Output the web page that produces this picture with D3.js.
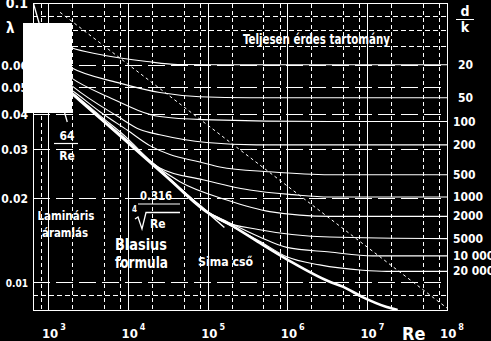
<!DOCTYPE html>
<html>
<head>
<meta charset="utf-8">
<script src="https://cdn.jsdelivr.net/npm/d3@7"></script>
<style>
  html, body { margin: 0; padding: 0; background: #000; }
  svg { display: block; }
  text { font-family: 'Liberation Sans Narrow', 'Arial Narrow', 'DejaVu Sans Condensed', sans-serif; font-weight: bold; fill: #fff; }
</style>
</head>
<body>
<svg id="chart" width="491" height="341"></svg>
<script>
// ---- Axis ticks ----
const reMajor = [1e3, 1e4, 1e5, 1e6, 1e7];
const reMinor = [8e2, 2e3, 5e3, 8e3, 2e4, 5e4, 8e4, 2e5, 5e5, 8e5, 2e6, 5e6, 8e6, 2e7, 5e7, 8e7];
const reTickExp = [3, 4, 5, 6, 7, 8];
const lambdaMajor = [0.01, 0.02, 0.03, 0.04, 0.05, 0.06];
const lambdaMinor = [0.009, 0.07, 0.08, 0.09];
const lambdaLabels = [0.1, 0.06, 0.05, 0.04, 0.03, 0.02, 0.01];

// ---- Laminar flow (64/Re) and Blasius range ----
const laminarRe = [640, 1700];
const blasiusRe = [1800, 5000, 20000, 60000, 160000];

// ---- Hydraulically smooth pipe ----
const smoothRe  = [1500, 1900, 3000, 10000, 30000, 100000, 187000, 445000, 1e6, 3.36e6, 4.9e6, 8.7e6, 1.75e7, 2.4e7];
const smoothLam = [0.0508, 0.0479, 0.0427, 0.0316, 0.0240, 0.0178, 0.0162, 0.0139, 0.0121, 0.0101, 0.0097, 0.0089, 0.0082, 0.0080];

// ---- Boundary of the fully rough zone ----
const roughBoundaryRe  = [1380, 1e8];
const roughBoundaryLam = [0.093, 0.00813];

// ---- Relative smoothness d/k curves: [Re, lambda] ----
const dkLabels = ["20", "50", "100", "200", "500", "1000", "2000", "5000", "10 000", "20 000"];
const c20 = [[1300,0.0730],[1891,0.0696],[4373,0.0657],[17000,0.0620],[41600,0.0605],[153000,0.0604],[1e8,0.0604]];
const c50 = [[1300,0.0630],[1891,0.0590],[7355,0.0521],[24750,0.0480],[78600,0.0464],[333300,0.0460],[1e8,0.0460]];
const c100 = [[1300,0.0590],[1891,0.0543],[5508,0.0464],[24750,0.0394],[85700,0.0384],[3.36e6,0.0378],[1e8,0.0378]];
const c200 = [[1400,0.0550],[2004,0.0504],[7355,0.0394],[13884,0.0354],[24750,0.0339],[96200,0.0318],[407800,0.0312],[1e8,0.0312]];
const c500 = [[1500,0.0515],[2123,0.0480],[4373,0.0410],[9817,0.0351],[18535,0.0310],[33036,0.0288],[78600,0.0271],[140000,0.0260],[593700,0.0250],[3.36e6,0.0244],[1e8,0.0244]];
const c1000 = [[1500,0.0512],[2123,0.0472],[4373,0.0397],[9817,0.0328],[13884,0.0297],[24750,0.0258],[85700,0.0234],[333300,0.0215],[1.154e6,0.0207],[3.36e6,0.0203],[1e8,0.0203]];
const c2000 = [[1500,0.0510],[2123,0.0470],[4373,0.0393],[9817,0.0323],[18535,0.0273],[44105,0.0230],[171400,0.0198],[593700,0.0180],[3.36e6,0.0173],[1e8,0.0173]];
const c5000 = [[1500,0.0509],[2123,0.0469],[4373,0.0391],[10000,0.0319],[33036,0.0236],[78600,0.0190],[140000,0.0168],[444700,0.0155],[3.36e6,0.0146],[1e8,0.0144]];
const c10000 = [[1500,0.0508],[2123,0.0468],[4373,0.0390],[10000,0.0318],[33036,0.0235],[100000,0.0179],[171400,0.0166],[444700,0.0146],[970300,0.0134],[3.36e6,0.0129],[1.164e7,0.0125],[1e8,0.0125]];
const c20000 = [[1500,0.0507],[2123,0.0467],[4373,0.0389],[10000,0.0317],[33036,0.0234],[100000,0.0178],[228800,0.0156],[444700,0.0141],[970300,0.0124],[2.518e6,0.0116],[8.716e6,0.0111],[1.744e7,0.0110],[1e8,0.0110]];
const dkCurves = [c20, c50, c100, c200, c500, c1000, c2000, c5000, c10000, c20000];

// ---- Drawing ----
const svg = d3.select('#chart');
const x = d3.scaleLog().domain([Math.pow(10, 2.8), 1e8]).range([33, 447]);
const y = d3.scaleLog().domain([0.008, 0.1]).range([310, 3.5]);
const [x0, x1] = x.range();
const [y0, y1] = y.range();

svg.append('defs').append('clipPath').attr('id', 'plot')
  .append('rect').attr('x', x0).attr('y', y1).attr('width', x1 - x0).attr('height', y0 - y1);

const grid = svg.append('g').attr('stroke', '#fff').attr('stroke-width', 1).attr('shape-rendering', 'crispEdges');

grid.selectAll('.vmin').data(reMinor).join('line')
  .attr('x1', d => x(d)).attr('x2', d => x(d)).attr('y1', y1).attr('y2', y0)
  .attr('stroke-dasharray', '4,3');
grid.selectAll('.vmaj').data(reMajor).join('line')
  .attr('x1', d => x(d)).attr('x2', d => x(d)).attr('y1', y1).attr('y2', y0);
grid.selectAll('.hmaj').data(lambdaMajor).join('line')
  .attr('x1', x0).attr('x2', x1).attr('y1', d => y(d)).attr('y2', d => y(d))
  .attr('stroke-dasharray', '17,6');
grid.selectAll('.hmin').data(lambdaMinor).join('line')
  .attr('x1', x0).attr('x2', x1).attr('y1', d => y(d)).attr('y2', d => y(d))
  .attr('stroke-dasharray', '5,3');
grid.append('rect').attr('x', x0).attr('y', y1).attr('width', x1 - x0).attr('height', y0 - y1)
  .attr('fill', 'none');

const plot = svg.append('g').attr('clip-path', 'url(#plot)').attr('fill', 'none').attr('stroke', '#fff');
const line = d3.line().x(d => x(d[0])).y(d => y(d[1])).curve(d3.curveMonotoneX);
const straight = d3.line().x(d => x(d[0])).y(d => y(d[1]));

// fully rough boundary
plot.append('path')
  .attr('d', straight(roughBoundaryRe.map((r, i) => [r, roughBoundaryLam[i]])))
  .attr('stroke-width', 1).attr('stroke-dasharray', '3,3');

// roughness curves
plot.selectAll('.dk').data(dkCurves).join('path')
  .attr('d', d => line(d)).attr('stroke-width', 1.1);

// Blasius: 0.316 / Re^0.25
plot.append('path')
  .attr('d', straight(blasiusRe.map(r => [r, 0.316 / Math.pow(r, 0.25)])))
  .attr('stroke-width', 1.4);

// smooth pipe
plot.append('path')
  .attr('d', line(smoothRe.map((r, i) => [r, smoothLam[i]])))
  .attr('stroke-width', 2.6);

// laminar: 64 / Re
plot.append('path')
  .attr('d', straight(laminarRe.map(r => [r, 64 / r])))
  .attr('stroke-width', 1.3);

// ---- Text ----
function label(tx, ty, str, size, anchor, len) {
  const t = svg.append('text').attr('x', tx).attr('y', ty)
    .attr('font-size', size).attr('text-anchor', anchor || 'start').text(str);
  if (len) t.attr('textLength', len).attr('lengthAdjust', 'spacingAndGlyphs');
  return t;
}

// y tick labels
svg.selectAll('.ylab').data(lambdaLabels).join('text')
  .attr('x', 28).attr('y', d => d === 0.1 ? 8 : y(d) + 4.5)
  .attr('text-anchor', 'end')
  .attr('font-size', d => d === 0.1 ? 14 : (d === 0.01 ? 10 : 12))
  .text(d => d === 0.1 ? '0.1' : d.toFixed(2));

// x tick labels 10^n
svg.selectAll('.xlab').data(reTickExp).join('text')
  .attr('x', d => x(Math.pow(10, d)) - 7).attr('y', 338)
  .attr('font-size', 13)
  .each(function (d) {
    const t = d3.select(this);
    t.append('tspan').text('10');
    t.append('tspan').attr('font-size', 9).attr('dx', 2).attr('dy', -8).text(d);
  });

label(402, 340, 'Re', 18);
label(6, 33, 'λ', 15);

// d/k column
label(465, 16, 'd', 14, 'middle');
svg.append('line').attr('x1', 456).attr('x2', 474).attr('y1', 19.5).attr('y2', 19.5)
  .attr('stroke', '#fff').attr('stroke-width', 1);
label(465, 32, 'k', 14, 'middle');
svg.selectAll('.dklab').data(dkCurves).join('text')
  .attr('x', (d, i) => dkLabels[i].length < 3 ? 458 : 453)
  .attr('y', d => y(d[d.length - 1][1]) + 4)
  .attr('font-size', 12)
  .text((d, i) => dkLabels[i]);

// annotations
label(243, 44, 'Teljesen érdes tartomány', 14, 'start', 147);
label(67, 140, '64', 12, 'middle');
svg.append('line').attr('x1', 54).attr('x2', 78).attr('y1', 143.5).attr('y2', 143.5)
  .attr('stroke', '#fff').attr('stroke-width', 1.2);
label(67, 160, 'Re', 12, 'middle');

label(66, 220, 'Lamináris', 12, 'middle', 57);
label(65, 237, 'áramlás', 12, 'middle', 46);
label(115, 250, 'Blasius', 15, 'start', 52);
label(115, 268, 'formula', 15, 'start', 53);
label(198, 266, 'Sima cső', 13, 'start', 55);

// Blasius formula 0.316 / Re^(1/4)
label(140, 200, '0.316', 12, 'start', 32);
svg.append('line').attr('x1', 138).attr('x2', 180).attr('y1', 204).attr('y2', 204)
  .attr('stroke', '#fff').attr('stroke-width', 1.2);
svg.append('path').attr('d', 'M135,219 L138,217 L142,229 L146,212.5 L180,212.5')
  .attr('fill', 'none').attr('stroke', '#fff').attr('stroke-width', 1.3);
label(132, 212, '4', 8);
label(150, 228, 'Re', 12);

// white panel over the upper-left corner
svg.append('rect').attr('x', 23).attr('y', 23).attr('width', 49).attr('height', 90).attr('fill', '#fff');
</script>
</body>
</html>
